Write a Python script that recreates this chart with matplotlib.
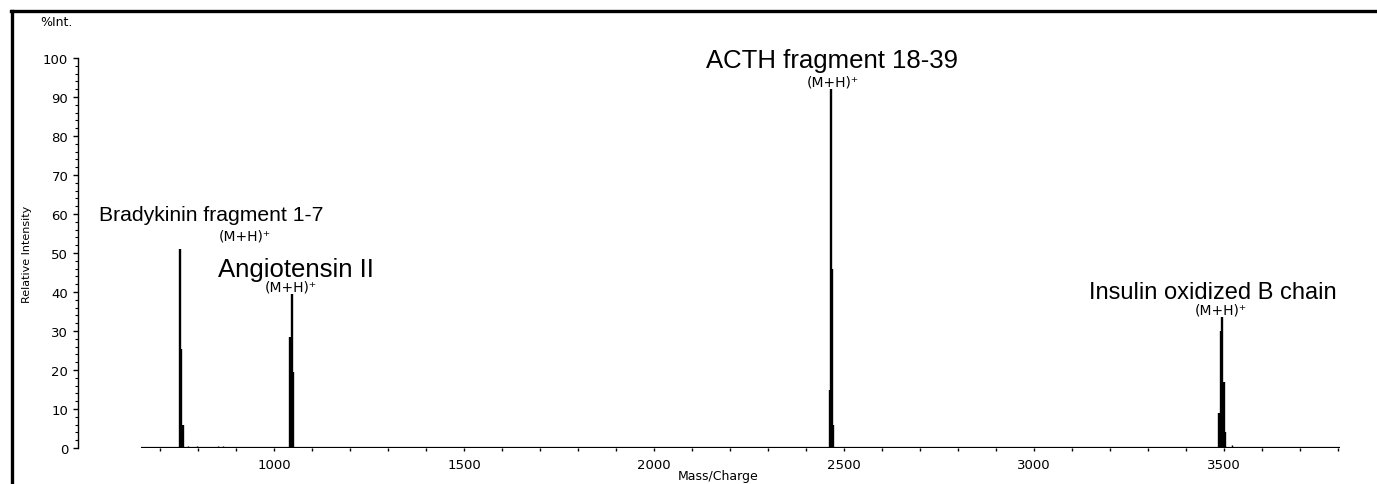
import matplotlib
matplotlib.use("Agg")
import matplotlib.pyplot as plt
from matplotlib.lines import Line2D
from matplotlib.ticker import MultipleLocator, FixedLocator

# stick spectrum (m/z, relative intensity in %)
peak_mz = [753, 756, 759,                  # bradykinin fragment 1-7
           1043, 1046, 1049,               # angiotensin II
           2462, 2465, 2468, 2471,         # ACTH fragment 18-39
           3487, 3492, 3495, 3499, 3502]   # insulin oxidized B chain
peak_int = [51, 25.5, 6,
            28.5, 39.5, 19.5,
            15, 92, 46, 6,
            9, 30, 33.5, 17, 4]

# tiny baseline bumps
noise_mz = [774, 797, 853, 866, 1458, 3521]
noise_int = [0.6, 0.5, 0.5, 0.6, 0.3, 0.8]

scan_range = [650, 3805]

x_major = [1000, 1500, 2000, 2500, 3000, 3500]
y_major = [0, 10, 20, 30, 40, 50, 60, 70, 80, 90, 100]

fig = plt.figure(figsize=(13.77, 4.85), dpi=100)
W, H = 1377, 485
ax = fig.add_axes([78 / W, (H - 449) / H, (1340 - 78) / W, (449 - 59) / H])

# baseline of the spectrum (serves as the x axis)
ax.plot(scan_range, [0, 0], color="black", lw=1.6, solid_capstyle="butt")
ax.vlines(peak_mz, 0, peak_int, color="black", lw=1.7)
ax.vlines(noise_mz, 0, noise_int, color="black", lw=1.0)

ax.set_xlim(484, 3805)
ax.set_ylim(0, 100)

for s in ["top", "right", "bottom"]:
    ax.spines[s].set_visible(False)
ax.spines["left"].set_linewidth(1.0)

ax.xaxis.set_major_locator(FixedLocator(x_major))
ax.xaxis.set_minor_locator(FixedLocator([m for m in range(700, 3900, 100) if m not in x_major]))
ax.yaxis.set_major_locator(FixedLocator(y_major))
ax.yaxis.set_minor_locator(MultipleLocator(2))

ax.tick_params(axis="x", which="both", direction="out", length=2.5, width=1.0,
               pad=5, labelsize=9.5, colors="black")
ax.tick_params(axis="y", which="major", direction="out", length=3.5, width=1.0,
               pad=3.5, labelsize=9.5)
ax.tick_params(axis="y", which="minor", direction="out", length=2, width=0.8)

# axis captions
fig.text(718 / W, 1 - 477 / H, "Mass/Charge", fontsize=9, va="center", ha="center")
fig.text(40 / W, 1 - 23 / H, "%Int.", fontsize=9, va="center", ha="left")
fig.text(27 / W, 1 - 254 / H, "Relative Intensity", fontsize=8, rotation=90,
         va="center", ha="center")

# peak annotations
big = dict(family=["Liberation Sans", "DejaVu Sans"], ha="center",
           va="center", clip_on=False)
small = dict(fontsize=10, ha="center", va="center", clip_on=False)

ax.text(834, 59.8, "Bradykinin fragment 1-7", fontsize=15.2, **big)
ax.text(924, 54.6, "(M+H)⁺", **small)
ax.text(1058, 45.8, "Angiotensin II", fontsize=18.5, **big)
ax.text(1045, 41.3, "(M+H)⁺", **small)
ax.text(2468, 99.5, "ACTH fragment 18-39", fontsize=18.5, **big)
ax.text(2471, 94.0, "(M+H)⁺", **small)
ax.text(3471, 40.0, "Insulin oxidized B chain", fontsize=17, **big)
ax.text(3491, 35.4, "(M+H)⁺", **small)

# thick frame along the left and top edges
fig.add_artist(Line2D([12 / W, 12 / W], [0, 1 - 12 / H], color="black", lw=2.4,
                      transform=fig.transFigure))
fig.add_artist(Line2D([11 / W, 1], [1 - 12 / H, 1 - 12 / H], color="black", lw=2.4,
                      transform=fig.transFigure))

fig.savefig("out.png", dpi=100)
